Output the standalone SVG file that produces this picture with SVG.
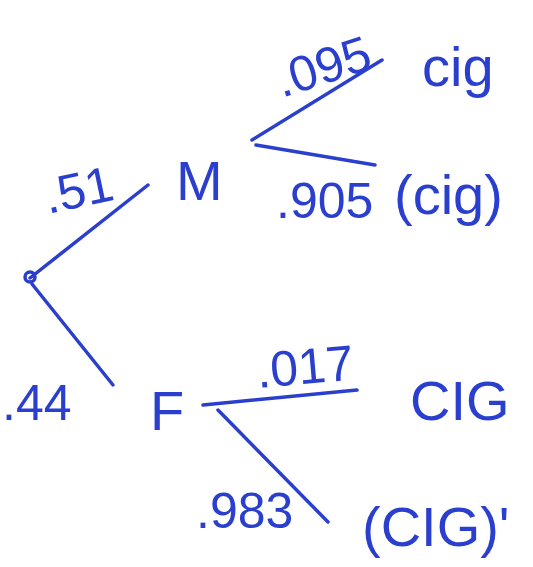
<svg xmlns="http://www.w3.org/2000/svg" width="533" height="567" viewBox="0 0 533 567">
<style>
.t{font-family:"Liberation Sans",Arial,sans-serif;fill:#2b3fcf;}
.big{font-size:56px;}
.num{font-size:50px;}
.e{stroke:#2b3fcf;stroke-width:3.5;fill:none;stroke-linecap:round;}
</style>
<rect width="533" height="567" fill="#ffffff"/>
<g id="connectors">
<path class="e" d="M30,278 L148,185"/>
<path class="e" d="M32,284 L113,385"/>
<path class="e" d="M252,140 L382,60"/>
<path class="e" d="M256,145 L375,165"/>
<path class="e" d="M203,405 L357,390"/>
<path class="e" d="M218,410 L328,522"/>
</g>
<g id="root"><circle class="e" cx="30" cy="277" r="5"/></g>
<g id="M"><text class="t big" x="176" y="200">M</text></g>
<g id="F"><text class="t big" x="150" y="430">F</text></g>
<g id="lbl51"><text class="t num" x="48" y="214" transform="rotate(-12 48 214)">.51</text></g>
<g id="lbl44"><text class="t num" x="2" y="420">.44</text></g>
<g id="lbl095"><text class="t num" x="282" y="98" transform="rotate(-18 282 98)">.095</text></g>
<g id="lbl905"><text class="t num" x="276" y="218">.905</text></g>
<g id="lbl017"><text class="t num" x="258" y="388" transform="rotate(-5 258 388)">.017</text></g>
<g id="lbl983"><text class="t num" x="196" y="528">.983</text></g>
<g id="cig1"><text class="t big" x="422" y="86">cig</text></g>
<g id="cig2"><text class="t big" x="394" y="214">(cig)</text></g>
<g id="CIG1"><text class="t big" x="410" y="420">CIG</text></g>
<g id="CIG2"><text class="t big" x="362" y="546">(CIG)'</text></g>
</svg>
